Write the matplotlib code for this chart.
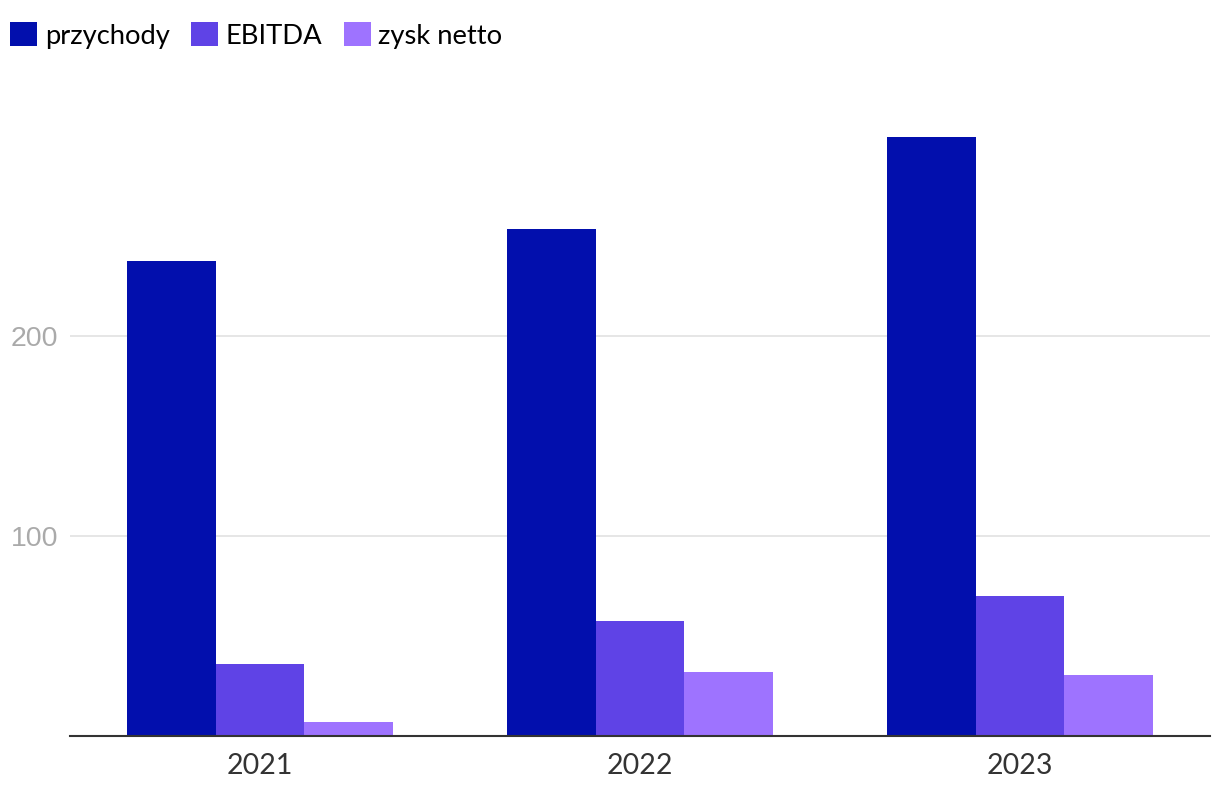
import matplotlib
matplotlib.use("Agg")
import matplotlib.pyplot as plt
import numpy as np

years = ["2021", "2022", "2023"]
przychody = [237.5, 253.5, 299.5]
ebitda = [36, 57.5, 70]
zysk_netto = [7, 32, 30.5]

series = [("przychody", przychody, "#020FAD"),
          ("EBITDA", ebitda, "#5F43E6"),
          ("zysk netto", zysk_netto, "#9E73FF")]

W, H = 1220, 798
fig = plt.figure(figsize=(W / 100, H / 100), dpi=100)
ax = fig.add_axes([70 / W, (H - 736) / H, 1140 / W, 600 / H])

x = np.arange(len(years))
bw = 0.234
handles = []
for i, (name, vals, col) in enumerate(series):
	b = ax.bar(x + (i - 1) * bw, vals, bw, color=col, label=name, zorder=2)
	handles.append(b)

ax.set_xlim(-0.5, 2.5)
ax.set_ylim(0, 300)
ax.set_yticks([100, 200])
ax.set_xticks(x)
ax.set_xticklabels(years)
ax.tick_params(axis="y", length=0, pad=8.6)
ax.tick_params(axis="x", length=0, pad=12)
for lbl in ax.get_yticklabels():
	lbl.set_fontfamily("Liberation Sans")
	lbl.set_fontsize(20.5)
	lbl.set_color("#AAAAAA")
for lbl in ax.get_xticklabels():
	lbl.set_fontfamily("Lato")
	lbl.set_fontsize(20.5)
	lbl.set_color("#333333")
ax.grid(axis="y", color="#E2E2E2", linewidth=1.2, zorder=0)
for s in ["top", "right", "left"]:
	ax.spines[s].set_visible(False)
ax.spines["bottom"].set_color("#333333")
ax.spines["bottom"].set_linewidth(1.5)
ax.spines["bottom"].set_zorder(3)

fig.legend(handles=handles, loc="upper left", bbox_to_anchor=(10 / W, 1 - 22 / H),
           ncol=3, frameon=False, prop={"family": "Lato", "size": 19.7},
           handlelength=1.0, handleheight=1.0, handletextpad=0.27, columnspacing=0.78,
           borderaxespad=0, borderpad=0)

fig.savefig("out.png", dpi=100)
